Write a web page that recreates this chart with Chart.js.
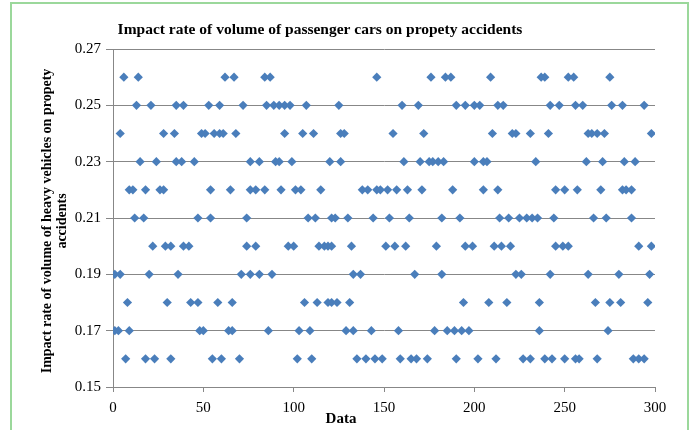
<!DOCTYPE html>
<html><head><meta charset="utf-8">
<script src="https://cdn.jsdelivr.net/npm/chart.js@4"></script>
<style>html,body{margin:0;padding:0;background:#fff;}#wrap{width:694px;height:430px;position:relative;}</style>
</head><body><div id="wrap"><canvas id="c" width="694" height="430"></canvas></div>
<script>
const chartTitle = "Impact rate of volume of passenger cars on propety accidents";
const xAxisTitle = "Data";
const yAxisTitleLines = ["Impact rate of volume of heavy vehicles on propety", "accidents"];
const xTicks = [0, 50, 100, 150, 200, 250, 300];
const yTicks = [0.15, 0.17, 0.19, 0.21, 0.23, 0.25, 0.27];

// x positions (Data index) of the points found at each y level
const x026 = [6, 14, 62, 67, 84, 87, 146, 176, 184, 187, 209, 237, 239, 252, 255, 275];
const x025 = [13, 21, 35, 39, 53, 59, 72, 85, 89, 92, 95, 98, 107, 125, 160, 169, 190, 195, 200, 203, 213, 216, 242, 247, 256, 260, 276, 282, 294];
const x024 = [4, 28, 34, 49, 51, 56, 59, 61, 68, 95, 105, 111, 126, 128, 155, 172, 210, 221, 223, 231, 241, 263, 265, 268, 272, 298];
const x023 = [15, 24, 35, 38, 45, 76, 81, 90, 92, 99, 120, 126, 161, 170, 175, 177, 180, 183, 200, 205, 207, 234, 262, 271, 283, 289];
const x022 = [9, 11, 18, 26, 28, 54, 65, 76, 79, 84, 93, 101, 104, 115, 138, 141, 146, 148, 152, 157, 163, 171, 188, 205, 213, 245, 250, 257, 270, 282, 284, 287];
const x021 = [12, 17, 47, 54, 74, 108, 112, 121, 123, 130, 144, 153, 164, 182, 192, 214, 219, 225, 229, 232, 235, 244, 266, 273, 287];
const x020 = [22, 29, 32, 39, 42, 74, 79, 97, 100, 114, 117, 119, 121, 132, 151, 156, 162, 179, 195, 199, 211, 215, 220, 245, 249, 252, 291, 298];
const x019 = [1, 4, 20, 36, 71, 76, 81, 88, 133, 137, 167, 182, 223, 226, 242, 263, 280, 297];
const x018 = [8, 30, 43, 47, 58, 66, 106, 113, 119, 121, 124, 131, 194, 208, 218, 236, 267, 275, 281, 296];
const x017 = [1, 3, 9, 48, 50, 64, 66, 86, 103, 109, 129, 133, 143, 158, 178, 185, 189, 193, 197, 236, 274];
const x016 = [7, 18, 23, 32, 55, 60, 70, 102, 110, 135, 140, 145, 149, 159, 165, 168, 174, 190, 202, 212, 227, 231, 239, 243, 250, 256, 258, 268, 288, 291, 294];

const levels = [0.26, 0.25, 0.24, 0.23, 0.22, 0.21, 0.20, 0.19, 0.18, 0.17, 0.16];
const levelXs = [x026, x025, x024, x023, x022, x021, x020, x019, x018, x017, x016];

const points = [];
levels.forEach((lv, i) => levelXs[i].forEach(x => points.push({x: x, y: lv})));

const SERIF = "'Liberation Serif', 'Times New Roman', serif";
const GRID = '#878787';

const textPlugin = {
  id: 'texts',
  beforeDraw(chart) {
    const ctx = chart.ctx;
    ctx.save();
    ctx.fillStyle = '#fff';
    ctx.fillRect(0, 0, chart.width, chart.height);
    ctx.strokeStyle = '#9bd89b';
    ctx.lineWidth = 2;
    ctx.beginPath();
    ctx.moveTo(11, 432); ctx.lineTo(11, 3); ctx.lineTo(688, 3); ctx.lineTo(688, 432);
    ctx.stroke();
    ctx.restore();
  },
  afterDraw(chart) {
    const ctx = chart.ctx;
    const ca = chart.chartArea;
    ctx.save();
    ctx.fillStyle = '#000';
    ctx.textAlign = 'center';
    ctx.textBaseline = 'middle';
    ctx.font = "bold 15.5px " + SERIF;
    ctx.fillText(chartTitle, 320, 30);
    ctx.font = "bold 15px " + SERIF;
    ctx.fillText(xAxisTitle, 341, 419);
    ctx.translate(0, (ca.top + ca.bottom) / 2 + 3);
    ctx.rotate(-Math.PI / 2);
    ctx.font = "bold 14px " + SERIF;
    ctx.fillText(yAxisTitleLines[0], 0, 47);
    ctx.fillText(yAxisTitleLines[1], 0, 62);
    ctx.restore();
  }
};

new Chart(document.getElementById('c'), {
  type: 'scatter',
  data: {
    datasets: [{
      data: points,
      pointStyle: 'rectRot',
      radius: 4.6,
      hoverRadius: 4.6,
      backgroundColor: '#4a7ebb',
      borderColor: '#4a7ebb',
      borderWidth: 0
    }]
  },
  options: {
    responsive: false,
    animation: false,
    devicePixelRatio: 1,
    layout: {padding: {left: 0, right: 39, top: 49, bottom: 0}},
    plugins: {legend: {display: false}, title: {display: false}, tooltip: {enabled: false}},
    scales: {
      x: {
        type: 'linear', min: 0, max: 300,
        afterBuildTicks: s => { s.ticks = xTicks.map(v => ({value: v})); },
        afterFit: s => { s.height = 43; },
        ticks: {color: '#000', font: {family: SERIF, size: 15}, padding: 7, maxRotation: 0, autoSkip: false},
        grid: {drawOnChartArea: false, drawTicks: true, tickLength: 5, color: GRID},
        border: {color: GRID}
      },
      y: {
        type: 'linear', min: 0.15, max: 0.27,
        afterBuildTicks: s => { s.ticks = yTicks.map(v => ({value: v})); },
        afterFit: s => { s.width = 113; },
        ticks: {color: '#000', font: {family: SERIF, size: 15}, padding: 5, callback: v => v.toFixed(2), autoSkip: false},
        grid: {drawOnChartArea: true, drawTicks: true, tickLength: 7, color: GRID},
        border: {color: GRID}
      }
    }
  },
  plugins: [textPlugin]
});
</script>
</body></html>
